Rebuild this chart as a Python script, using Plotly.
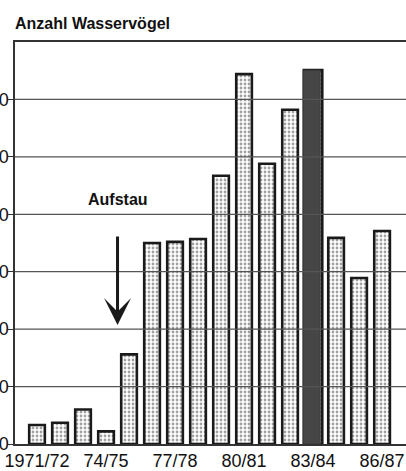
import plotly.graph_objects as go

# --- data -------------------------------------------------------------
seasons = ["1971/72", "72/73", "73/74", "74/75", "75/76", "76/77", "77/78", "78/79",
           "79/80", "80/81", "81/82", "82/83", "83/84", "84/85", "85/86", "86/87"]
counts = [330, 370, 600, 220, 1560, 3500, 3520, 3570,
          4670, 6440, 4880, 5820, 6510, 3590, 2890, 3710]
highlight_season = "83/84"
tick_seasons = ["1971/72", "74/75", "77/78", "80/81", "83/84", "86/87"]
y_ticks = [0, 1000, 2000, 3000, 4000, 5000, 6000]
title_text = "Anzahl Wasservögel"
event_text = "Aufstau"
event_after = "74/75"

# --- styling ----------------------------------------------------------
FONT = "Liberation Sans, Arial, sans-serif"
LINE = "#333333"

x_idx = list(range(len(seasons)))
widths = [0.8 if s == highlight_season else 0.68 for s in seasons]
hi_x = [i for i, s in enumerate(seasons) if s == highlight_season]
hi_y = [c for s, c in zip(seasons, counts) if s == highlight_season]

fig = go.Figure()
fig.add_trace(go.Bar(
    x=x_idx, y=counts, width=widths,
    marker=dict(
        color="white",
        line=dict(color="#1a1a1a", width=2.6),
        pattern=dict(shape=".", fgcolor="#444444", bgcolor="white",
                     size=4, solidity=0.38, fillmode="overlay"),
    ),
    hoverinfo="skip", showlegend=False,
))
fig.add_trace(go.Bar(
    x=hi_x, y=hi_y, width=0.74, offset=-0.43,
    marker=dict(color="#464646", line=dict(color="#3a3a3a", width=1)),
    hoverinfo="skip", showlegend=False,
))

# gridlines drawn above bars
for v in y_ticks[1:]:
    fig.add_hline(y=v, line=dict(color="#555555", width=1.3), layer="above")

tickpos = [seasons.index(s) for s in tick_seasons]
fig.update_xaxes(
    range=[-0.957, 16.04], tickvals=tickpos, ticktext=tick_seasons,
    showgrid=False, zeroline=False, showline=True, mirror=True,
    linecolor=LINE, linewidth=1.5, ticks="", tickangle=0, automargin=False,
    tickfont=dict(family=FONT, size=18, color="#111111"),
)
fig.update_yaxes(
    range=[0, 7000], tickvals=y_ticks, ticktext=[str(v) for v in y_ticks],
    showgrid=False, zeroline=False, showline=True, mirror=True, automargin=False,
    linecolor=LINE, linewidth=1.5, ticks="outside", ticklen=5,
    tickcolor=LINE, tickwidth=1.3, ticklabelstandoff=-4,
    tickfont=dict(family=FONT, size=18, color="#111111"),
)

ev_x = seasons.index(event_after) + 0.5
fig.add_annotation(
    x=ev_x, y=4250, text=event_text, showarrow=False,
    font=dict(family=FONT, size=16, color="#111111", weight="bold"),
)
fig.add_annotation(
    x=ev_x, y=2070, ax=0, ay=-90, text="", showarrow=True,
    arrowhead=3, arrowwidth=3, arrowsize=1.5, arrowcolor="#1a1a1a",
)
fig.add_annotation(
    xref="paper", yref="paper", x=0, y=1, xanchor="left", yanchor="bottom",
    xshift=-2, yshift=8, text=title_text, showarrow=False,
    font=dict(family=FONT, size=16, color="#111111", weight="bold"),
)

fig.update_layout(
    width=406, height=471,
    margin=dict(l=15, r=0, t=42, b=27),
    paper_bgcolor="white", plot_bgcolor="white",
    barmode="overlay",
)

fig.write_html("out.html", config={"displayModeBar": False},
               post_script="document.body.style.margin='0';")
